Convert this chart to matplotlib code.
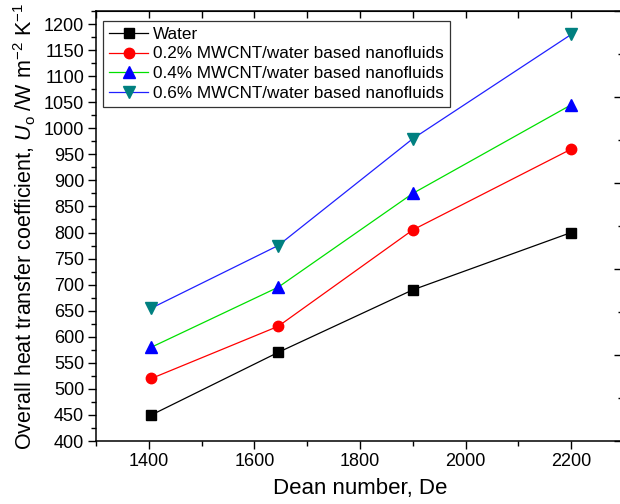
import matplotlib
matplotlib.use('Agg')
import matplotlib.pyplot as plt
from matplotlib.ticker import MultipleLocator, NullFormatter

plt.rcParams['font.family'] = ['Liberation Sans', 'DejaVu Sans']
plt.rcParams['mathtext.fontset'] = 'custom'
plt.rcParams['mathtext.rm'] = 'Liberation Sans'
plt.rcParams['mathtext.it'] = 'Liberation Sans:italic'

# --- Données ---
dean = [1405, 1645, 1900, 2200]
water = [450, 570, 690, 800]
mwcnt_02 = [520, 620, 805, 960]
mwcnt_04 = [580, 695, 875, 1045]
mwcnt_06 = [655, 775, 980, 1180]

SERIES = [
    ('Water', water, 'black', 's', 'black', 6.5),
    ('0.2% MWCNT/water based nanofluids', mwcnt_02, '#ff0000', 'o', '#ff0000', 7.5),
    ('0.4% MWCNT/water based nanofluids', mwcnt_04, '#00e000', '^', '#0000ff', 8.5),
    ('0.6% MWCNT/water based nanofluids', mwcnt_06, '#2020ff', 'v', '#008080', 8.5),
]

fig = plt.figure(figsize=(6.2, 5.04), dpi=100)
ax = fig.add_axes([96/620, 63/504, 528/620, 430/504])

for label, vals, lc, mk, mc, ms in SERIES:
    ax.plot(dean, vals, color=lc, linewidth=0.9, marker=mk, markersize=ms,
            markerfacecolor=mc, markeredgecolor=mc, label=label)

ax.set_xlim(1300, 2300)
ax.set_ylim(400, 1225)
ax.xaxis.set_major_locator(MultipleLocator(200))
ax.xaxis.set_minor_locator(MultipleLocator(100))
ax.yaxis.set_minor_locator(MultipleLocator(25))
ax.set_yticks(range(400, 1201, 50))
ax.tick_params(which='major', direction='out', length=6, width=1, labelsize=13, pad=2.5)
ax.tick_params(which='minor', direction='out', length=3.5, width=1)
for s in ax.spines.values():
    s.set_linewidth(1.1)

ax.set_xlabel('Dean number, De', fontsize=16, labelpad=6)
ax.set_ylabel(r'Overall heat transfer coefficient, $\mathit{U}_\mathrm{o}$ /W m$^{-2}$ K$^{-1}$',
              fontsize=15.5, labelpad=4)

# axe du haut : graduations vers l'intérieur tous les 100
top = ax.secondary_xaxis('top')
top.set_xticks(range(1300, 2301, 100))
top.xaxis.set_major_formatter(NullFormatter())
top.tick_params(direction='in', length=5, width=1)

# axe de droite (coupé dans l'original)
right = ax.twinx()
right.set_ylim(0, 5)
right.yaxis.set_major_locator(MultipleLocator(1))
right.yaxis.set_minor_locator(MultipleLocator(0.5))
right.yaxis.set_major_formatter(NullFormatter())
right.tick_params(which='major', direction='in', length=7, width=1)
right.tick_params(which='minor', direction='in', length=4, width=1)
for s in right.spines.values():
    s.set_visible(False)

leg = ax.legend(loc='upper left', bbox_to_anchor=(0.0133, 0.977), borderaxespad=0,
                fontsize=12.3, frameon=True, fancybox=False, edgecolor='black',
                handlelength=2.3, handletextpad=0.3, labelspacing=0.27, borderpad=0.35)
leg.get_frame().set_linewidth(0.9)

fig.savefig('out.png', dpi=100)
